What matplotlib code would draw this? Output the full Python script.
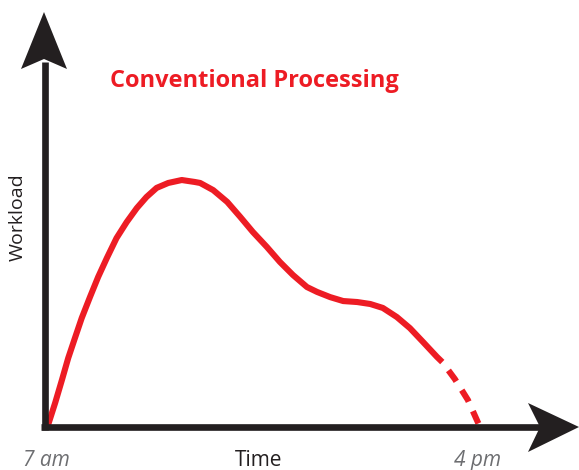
import matplotlib
matplotlib.use("Agg")
import matplotlib.pyplot as plt
from matplotlib.patches import Polygon

# workload curve (hours after 7 am, workload in % of peak)
hours = [0.05, 0.21, 0.35, 0.48, 0.62, 0.76, 0.93, 1.10, 1.28, 1.48, 1.69,
         1.90, 2.10, 2.31, 2.55, 2.83, 3.10, 3.21, 3.48, 3.77, 4.04, 4.30,
         4.59, 4.86, 5.13, 5.42, 5.63, 5.90, 6.17, 6.46, 6.73, 6.99, 7.28,
         7.55, 7.82, 8.11, 8.22]
workload = [0, 9.8, 19.1, 28.0, 36.2, 44.3, 52.8, 61.0, 68.7, 76.8, 83.3,
            89.0, 93.5, 97.2, 99.2, 100.4, 99.6, 99.2, 96.3, 91.5, 85.4, 79.3,
            73.2, 67.1, 61.8, 56.9, 54.9, 52.8, 51.2, 50.8, 50.0, 48.4, 44.7,
            40.2, 34.6, 28.5, 26.4]
# tail after the last solid point, drawn dashed
tail_hours = [8.22, 8.48, 8.75, 9.0]
tail_workload = [26.4, 19.5, 11, 0]

title = "Conventional Processing"
x_label = "Time"
y_label = "Workload"
start_label = "7 am"
end_label = "4 pm"

red = "#ed1c24"
black = "#231f20"
grey = "#6d6e71"
font = "Open Sans"

W, H = 579, 470
fig = plt.figure(figsize=(W / 100, H / 100), dpi=100)

# data axes: origin at pixel (45, 427), 48.33 px per hour, 2.46 px per %
ax = fig.add_axes([0, 0, 1, 1])
ax.set_xlim(-45 / 48.33, (W - 45) / 48.33)
ax.set_ylim(-(H - 427) / 2.46, 427 / 2.46)
ax.set_axis_off()
ax.plot(hours, workload, color=red, lw=4.4, solid_capstyle="butt",
        solid_joinstyle="round")
ax.plot(tail_hours, tail_workload, color=red, lw=4.4, dash_capstyle="butt",
        linestyle=(2.2, (2.2, 1.7)))

# overlay in pixel units for the arrow frame and labels
ov = fig.add_axes([0, 0, 1, 1])
ov.set_xlim(0, W)
ov.set_ylim(H, 0)
ov.set_axis_off()

ov.plot([45, 45], [430, 62], color=black, lw=4.8, solid_capstyle="butt")
ov.plot([41, 545], [427, 427], color=black, lw=4.8, solid_capstyle="butt")
ov.add_patch(Polygon([[44, 12], [21, 69], [44, 59], [67, 69]], closed=True,
                     color=black, lw=0))
ov.add_patch(Polygon([[579, 427], [528, 403], [540, 427], [528, 452]],
                     closed=True, color=black, lw=0))

ov.text(110, 87, title, color=red, fontsize=17, fontweight="bold",
        family=font, ha="left", va="baseline")
ov.text(259, 466, x_label, color=black, fontsize=15, family=font,
        ha="center", va="baseline")
ov.text(18, 217, y_label, color=black, fontsize=14, family=font,
        rotation=90, ha="center", va="center")
ov.text(46, 466, start_label, color=grey, fontsize=15, family=font,
        style="italic", ha="center", va="baseline")
ov.text(478, 466, end_label, color=grey, fontsize=15, family=font,
        style="italic", ha="center", va="baseline")

fig.savefig("out.png", dpi=100)
